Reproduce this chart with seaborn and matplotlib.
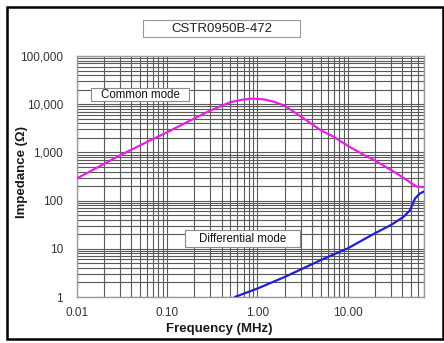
import matplotlib
matplotlib.use('Agg')
import matplotlib.pyplot as plt
import seaborn as sns
import pandas as pd
from matplotlib.ticker import LogLocator, FixedLocator, FixedFormatter, NullFormatter
from matplotlib.patches import Rectangle

# ---- data ----
title = "CSTR0950B-472"
cm_freq = [0.01, 0.03, 0.065, 0.11, 0.18, 0.3, 0.5, 0.7, 0.85, 1.0, 1.2, 1.5, 2.0,
           3.0, 5.0, 7.0, 10, 15, 20, 35, 50, 58, 70]
cm_imp = [290, 870, 1780, 2870, 4600, 7400, 11000, 12500, 13000, 12900, 12500, 11300, 9300,
          5600, 2900, 2100, 1370, 890, 680, 364, 235, 195, 190]
dm_freq = [0.56, 1.0, 2.0, 5.0, 10, 20, 30, 41.5, 49, 55.6, 62.8, 70]
dm_imp = [1.0, 1.5, 2.6, 5.8, 10.2, 21, 31, 46, 63, 110, 140, 155]
x_ticks = [0.01, 0.1, 1, 10]
x_tick_labels = ["0.01", "0.10", "1.00", "10.00"]
y_ticks = [1, 10, 100, 1000, 10000, 100000]
y_tick_labels = ["1", "10", "100", "1,000", "10,000", "100,000"]

sns.set_style('white')
plt.rcParams['font.family'] = ['Liberation Sans', 'DejaVu Sans']

W, H = 444, 343
fig = plt.figure(figsize=(W / 100, H / 100), dpi=100)
fig.patch.set_facecolor('white')

def fx(px):
    return px / W

def fy(py):
    return 1 - py / H

ax = fig.add_axes([fx(77), fy(297), fx(424) - fx(77), fy(56) - fy(297)])
ax.set_xscale('log')
ax.set_yscale('log')

cm = pd.DataFrame({'f': cm_freq, 'Z': cm_imp})
dm = pd.DataFrame({'f': dm_freq, 'Z': dm_imp})
sns.lineplot(data=cm, x='f', y='Z', ax=ax, color='#E81FE8', lw=1.6, sort=False,
             estimator=None, zorder=4)
sns.lineplot(data=dm, x='f', y='Z', ax=ax, color='#1E1EDC', lw=1.6, sort=False,
             estimator=None, zorder=4)

ax.set_xlim(0.01, 70)
ax.set_ylim(1, 100000)
ax.xaxis.set_major_locator(FixedLocator(x_ticks))
ax.xaxis.set_major_formatter(FixedFormatter(x_tick_labels))
ax.yaxis.set_major_locator(FixedLocator(y_ticks))
ax.yaxis.set_major_formatter(FixedFormatter(y_tick_labels))
ax.xaxis.set_minor_locator(LogLocator(base=10, subs=range(2, 10), numticks=20))
ax.yaxis.set_minor_locator(LogLocator(base=10, subs=range(2, 10), numticks=20))
ax.xaxis.set_minor_formatter(NullFormatter())
ax.yaxis.set_minor_formatter(NullFormatter())
ax.grid(True, which='both', color='#5a5a5a', lw=0.8)
ax.set_axisbelow(True)
ax.tick_params(which='both', length=0, labelsize=8.5, labelcolor='#333333')
ax.tick_params(axis='y', pad=10)
ax.tick_params(axis='x', pad=7)
ax.set_xlabel('')
ax.set_ylabel('')
for s in ax.spines.values():
    s.set_color('#9a9a9a')
    s.set_linewidth(1.0)

# axis titles
fig.text(fx(219), fy(329), 'Frequency (MHz)', ha='center', va='center',
         fontsize=9.5, fontweight='bold', color='#1a1a1a')
fig.text(fx(22), fy(172), 'Impedance (\u03a9)', ha='center', va='center', rotation=90,
         fontsize=9.5, fontweight='bold', color='#1a1a1a')

# title box
fig.patches.append(Rectangle((fx(143), fy(37)), fx(300) - fx(143), fy(20) - fy(37),
                             transform=fig.transFigure, fill=True, facecolor='white',
                             edgecolor='#9a9a9a', lw=0.8))
fig.text(fx(221.5), fy(28.5), title, ha='center', va='center', fontsize=9.5,
         color='#222222')

# series label boxes
def label_box(x0, y0, x1, y1, text):
    ax.add_patch(Rectangle((fx(x0), fy(y1)), fx(x1) - fx(x0), fy(y0) - fy(y1),
                           transform=fig.transFigure, facecolor='white',
                           edgecolor='#8a8a8a', lw=0.8, zorder=5, clip_on=False))
    ax.text(fx((x0 + x1) / 2), fy((y0 + y1) / 2), text, transform=fig.transFigure,
            ha='center', va='center', fontsize=8.3, color='#111111', zorder=6)

label_box(91, 88, 189, 101, 'Common mode')
label_box(185, 230, 300, 247, 'Differential mode')

# outer black frame
fig.patches.append(Rectangle((fx(7), fy(339)), fx(443) - fx(7), fy(7) - fy(339),
                             transform=fig.transFigure, fill=False, edgecolor='black',
                             lw=1.8))

fig.savefig('out.png', dpi=100, facecolor='white')
